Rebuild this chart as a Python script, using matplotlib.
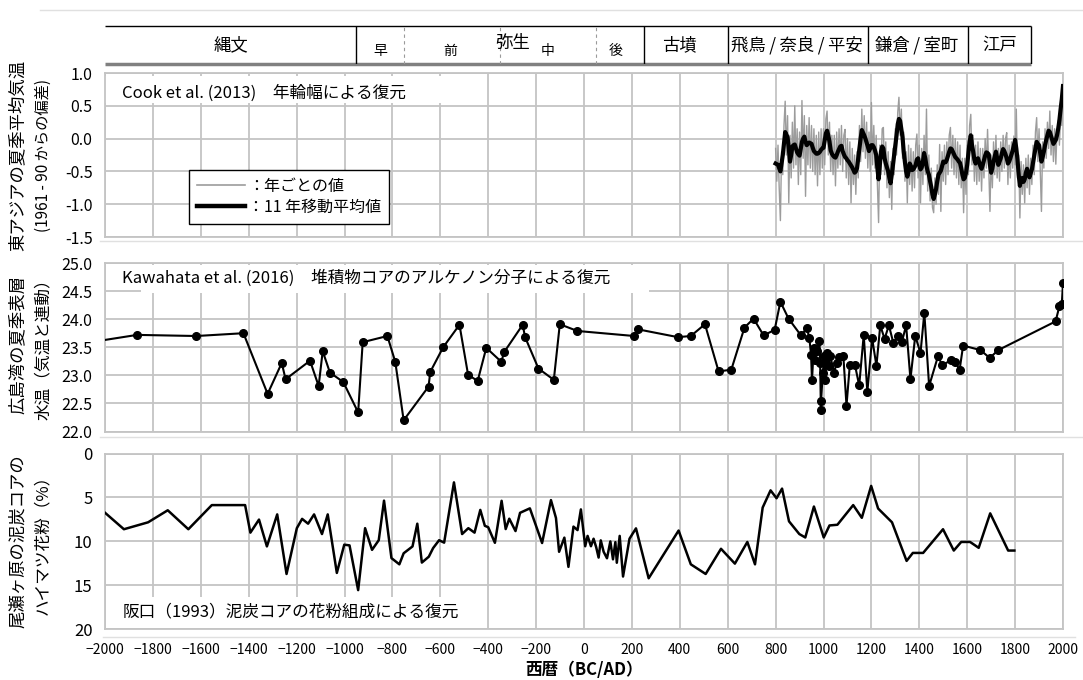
import numpy as np
import matplotlib.pyplot as plt
from matplotlib.lines import Line2D
from matplotlib.patches import Rectangle
from matplotlib.ticker import FormatStrFormatter

plt.rcParams['font.family'] = ['Noto Sans CJK JP', 'DejaVu Sans']

# ---- period band ----
era_names = ['縄文', '古墳', '飛鳥\u2009/\u2009奈良\u2009/\u2009平安', '鎌倉\u2009/\u2009室町', '江戸']
era_label_x = [-1475, 400, 890, 1390, 1735]
era_bounds = [-950, 250, 600, 1185, 1603, 1868]
yayoi_name = '弥生'
yayoi_label_x = -300
yayoi_sub = ['早', '前', '中', '後']
yayoi_sub_x = [-850, -560, -150, 130]
yayoi_sub_bounds = [-750, -350, 50]

# ---- Cook et al. (2013): summer temperature anomaly, 5-year steps 800-2000 ----
cook_years = np.arange(800, 2001, 5)
cook_annual = [
    -0.15, -0.65, -0.10, -0.75, -1.25, -0.20, -0.55, 0.20, 0.57, -0.25,
    0.35, -0.98, 0.05, -0.60, 0.25, -0.45, 0.50, -0.40, 0.15, -0.70,
    0.10, -0.55, 0.58, -0.30, 0.35, -0.88, 0.20, -0.40, 0.32, -0.45,
    0.20, -0.50, 0.15, -0.55, 0.05, -0.72, 0.10, -0.55, 0.15, -0.45,
    0.15, -0.40, 0.30, 0.42, -0.25, 0.25, -0.50, 0.05, -0.55, 0.05,
    -0.72, 0.10, -0.45, 0.15, -0.40, 0.20, -0.50, 0.05, 0.14, -0.60,
    0.00, -0.70, -0.05, -0.98, -0.15, -0.70, -0.25, -0.85, -0.20, -0.60,
    0.20, -0.35, 0.45, -0.20, 0.35, -0.30, 0.25, -0.45, 0.10, -0.50,
    0.55, -0.40, 0.20, -0.45, 0.05, -0.70, -1.28, -0.10, -0.55, 0.15,
    0.17, -0.55, -0.05, -0.75, -0.20, -0.90, -0.35, -1.08, -0.15, -0.55,
    0.15, -0.25, 0.40, 0.63, 0.05, 0.45, -0.30, 0.10, -0.65, -0.20,
    -0.98, -0.10, -0.70, -0.15, -0.80, -0.20, -0.75, -0.10, 0.07, -0.60,
    -0.10, -0.98, -0.15, -0.70, 0.05, -0.55, 0.45, -0.80, -0.25, -0.95,
    -0.45, -1.05, -1.13, -0.60, -1.00, -0.40, -0.85, -0.09, -1.11, -0.20,
    -0.65, -0.10, -0.70, -0.05, -0.55, 0.05, 0.17, -0.45, 0.05, -0.55,
    0.00, -0.60, -0.05, -0.70, -0.10, -0.75, -0.30, -1.13, -0.30, -0.85,
    -0.10, -0.55, 0.20, 0.37, -0.40, 0.05, -0.65, -0.10, -0.70, -0.05,
    -0.65, -0.15, -0.80, -0.15, -0.60, 0.00, -0.45, 0.14, -0.45, -1.11,
    -0.25, -0.75, -0.05, -0.55, 0.05, -0.60, -0.15, -0.65, -0.05, -0.50,
    0.05, -0.45, 0.00, 0.09, -0.70, -0.10, -0.60, -0.05, -0.45, 0.04,
    -0.40, 0.45, -0.60, -0.25, -1.21, -0.35, -0.85, -0.40, -0.98, -0.30,
    -0.75, -0.25, -0.85, -0.30, -0.70, -0.10, -0.55, 0.10, 0.32, -0.35,
    0.15, -0.50, -1.11, -0.05, -0.45, 0.15, -0.30, 0.25, -0.15, 0.42,
    -0.25, 0.20, -0.35, 0.15, -0.39, 0.10, 0.28, -0.10, 0.35, 0.20,
    0.83,
]
cook_ma11 = [
    -0.38, -0.39, -0.40, -0.45, -0.50, -0.38, -0.25, -0.08, 0.10, 0.06,
    0.02, -0.15, -0.35, -0.25, -0.12, -0.10, -0.09, -0.15, -0.21, -0.24,
    -0.26, -0.15, -0.05, 0.00, 0.03, -0.05, -0.10, -0.08, -0.06, -0.07,
    -0.08, -0.14, -0.19, -0.21, -0.23, -0.23, -0.22, -0.20, -0.17, -0.15,
    -0.14, -0.03, 0.08, 0.12, 0.05, -0.05, -0.18, -0.23, -0.26, -0.28,
    -0.29, -0.25, -0.20, -0.16, -0.12, -0.11, -0.19, -0.24, -0.28, -0.30,
    -0.33, -0.35, -0.38, -0.41, -0.44, -0.48, -0.52, -0.50, -0.45, -0.30,
    -0.15, 0.00, 0.13, 0.09, 0.05, 0.00, -0.06, -0.12, -0.19, -0.15,
    -0.10, -0.10, -0.13, -0.18, -0.25, -0.45, -0.62, -0.40, -0.20, -0.12,
    -0.15, -0.30, -0.38, -0.44, -0.50, -0.60, -0.68, -0.55, -0.40, -0.25,
    -0.10, 0.05, 0.22, 0.30, 0.27, 0.15, 0.02, -0.20, -0.36, -0.50,
    -0.58, -0.50, -0.38, -0.42, -0.48, -0.47, -0.44, -0.40, -0.32, -0.30,
    -0.40, -0.47, -0.44, -0.35, -0.22, -0.30, -0.42, -0.50, -0.55, -0.65,
    -0.74, -0.85, -0.92, -0.85, -0.77, -0.65, -0.55, -0.52, -0.49, -0.42,
    -0.35, -0.36, -0.36, -0.32, -0.26, -0.20, -0.15, -0.16, -0.20, -0.24,
    -0.28, -0.30, -0.32, -0.35, -0.37, -0.45, -0.55, -0.62, -0.60, -0.52,
    -0.40, -0.22, -0.05, 0.05, -0.10, -0.20, -0.32, -0.38, -0.34, -0.30,
    -0.36, -0.42, -0.46, -0.40, -0.33, -0.26, -0.21, -0.22, -0.24, -0.40,
    -0.52, -0.45, -0.35, -0.27, -0.20, -0.30, -0.40, -0.35, -0.30, -0.22,
    -0.16, -0.19, -0.24, -0.30, -0.38, -0.35, -0.30, -0.24, -0.18, -0.10,
    -0.02, -0.15, -0.32, -0.55, -0.72, -0.62, -0.60, -0.66, -0.62, -0.52,
    -0.46, -0.55, -0.59, -0.53, -0.47, -0.36, -0.25, -0.15, -0.05, -0.08,
    -0.10, -0.22, -0.35, -0.28, -0.20, -0.10, -0.02, 0.05, 0.12, 0.10,
    0.04, -0.02, -0.08, -0.05, -0.02, 0.05, 0.15, 0.28, 0.45, 0.60,
    0.80,
]

# ---- Kawahata et al. (2016): alkenone SST in Hiroshima Bay ----
kawa_years = [
    -2150, -1866, -1619, -1422, -1321, -1262, -1246, -1144, -1108, -1091,
    -1061, -1005, -943, -924, -821, -788, -753, -649, -642, -588,
    -520, -484, -444, -408, -345, -334, -256, -246, -190, -126,
    -101, -28, 210, 224, 392, 446, 505, 562, 615, 670,
    708, 750, 796, 820, 854, 906, 931, 941, 948, 952,
    959, 965, 972, 983, 986, 989, 990, 997, 1003, 1007,
    1014, 1021, 1028, 1044, 1055, 1066, 1083, 1096, 1110, 1131,
    1149, 1168, 1183, 1203, 1221, 1237, 1255, 1273, 1292, 1310,
    1327, 1345, 1363, 1383, 1405, 1421, 1441, 1478, 1496, 1532,
    1551, 1568, 1583, 1655, 1694, 1730, 1969, 1985, 1995, 2000,
]
kawa_sst = [
    23.53, 23.72, 23.70, 23.75, 22.67, 23.22, 22.93, 23.26, 22.81, 23.43,
    23.05, 22.88, 22.34, 23.59, 23.70, 23.24, 22.20, 22.80, 23.06, 23.50,
    23.90, 23.01, 22.90, 23.49, 23.24, 23.41, 23.90, 23.68, 23.12, 22.92,
    23.91, 23.79, 23.70, 23.82, 23.68, 23.70, 23.91, 23.07, 23.10, 23.85,
    24.01, 23.71, 23.81, 24.31, 24.01, 23.71, 23.84, 23.66, 23.37, 22.91,
    23.49, 23.28, 23.43, 23.62, 23.22, 22.38, 22.55, 23.04, 23.34, 22.91,
    23.40, 23.16, 23.35, 23.05, 23.22, 23.33, 23.34, 22.46, 23.19, 23.19,
    22.82, 23.72, 22.70, 23.66, 23.17, 23.89, 23.65, 23.89, 23.57, 23.70,
    23.59, 23.89, 22.93, 23.70, 23.40, 24.11, 22.81, 23.34, 23.18, 23.27,
    23.24, 23.09, 23.53, 23.45, 23.31, 23.45, 23.96, 24.23, 24.27, 24.64,
]

# ---- Sakaguchi (1993): Pinus pumila pollen in Ozegahara peat core (%) ----
oze_years = [
    -2000, -1921, -1820, -1738, -1652, -1554, -1415, -1393, -1357, -1324,
    -1281, -1242, -1199, -1177, -1152, -1127, -1094, -1070, -1032, -1001,
    -979, -943, -914, -885, -857, -835, -804, -771, -753, -716,
    -696, -677, -648, -630, -605, -584, -543, -509, -483, -457,
    -433, -414, -400, -372, -344, -327, -312, -286, -267, -226,
    -175, -138, -117, -104, -82, -65, -44, -27, -13, 5,
    15, 29, 40, 51, 61, 70, 82, 96, 110, 121,
    131, 137, 149, 163, 190, 217, 270, 395, 446, 508,
    572, 630, 682, 714, 746, 779, 804, 827, 856, 899,
    924, 960, 1001, 1025, 1058, 1124, 1160, 1199, 1228, 1286,
    1347, 1373, 1416, 1499, 1544, 1575, 1612, 1648, 1696, 1771,
    1797,
]
oze_pollen = [
    6.75, 8.63, 7.84, 6.47, 8.63, 5.88, 5.88, 9.02, 7.53, 10.59,
    6.94, 13.73, 8.51, 7.45, 8.00, 6.94, 9.18, 6.94, 13.61, 10.39,
    10.47, 15.57, 8.51, 10.98, 9.88, 5.37, 11.92, 12.63, 11.37, 10.59,
    8.00, 12.43, 11.76, 10.78, 9.88, 10.16, 3.29, 9.18, 8.51, 9.02,
    6.43, 8.24, 8.40, 10.18, 5.39, 8.61, 7.43, 8.84, 6.76, 6.25,
    10.20, 5.31, 7.35, 11.20, 9.59, 12.92, 8.33, 8.73, 6.37, 10.57,
    9.39, 10.57, 9.71, 10.69, 11.86, 9.90, 11.20, 11.94, 10.02, 12.06,
    10.10, 12.45, 9.39, 14.02, 9.71, 8.53, 14.22, 8.78, 12.63, 13.73,
    10.86, 12.55, 10.08, 12.63, 6.16, 4.20, 5.10, 4.00, 7.73, 9.18,
    9.57, 6.04, 9.57, 8.20, 8.12, 5.88, 7.33, 3.69, 6.27, 7.84,
    12.24, 11.33, 11.33, 8.63, 11.06, 10.08, 10.08, 10.75, 6.82, 11.06,
    11.06,
]

year_ticks = list(range(-2000, 2001, 200))

W, H = 1083, 680
fig = plt.figure(figsize=(W / 100, H / 100), dpi=100)
fig.patch.set_facecolor('white')


def px_axes(x0, y0, x1, y1):
    return fig.add_axes([x0 / W, 1 - y1 / H, (x1 - x0) / W, (y1 - y0) / H])


# faint chart-area borders
for y, xa, xb in [(10, 40, 1083), (241, 100, 1083), (437, 100, 1083), (637, 103, 1075)]:
    fig.add_artist(Line2D([xa / W, xb / W], [1 - y / H, 1 - y / H],
                          color='#e0e0e0', lw=1))

grid_color = '#c4c4c4'


def style_panel(ax):
    ax.set_xlim(-2000, 2000)
    ax.set_xticks(year_ticks)
    ax.grid(True, color=grid_color, lw=1.3)
    ax.set_axisbelow(True)
    for s in ax.spines.values():
        s.set_color(grid_color)
        s.set_linewidth(1.3)
    ax.tick_params(length=0, labelsize=11.5, pad=9)


def white_box(ax, x0, y0, x1, y1):
    ax.add_patch(Rectangle((x0, y0), x1 - x0, y1 - y0, transform=ax.transAxes,
                           facecolor='white', edgecolor='none', zorder=1.5))


# ---- period band ----
axb = px_axes(105, 26, 1063, 64)
axb.set_xlim(-2000, 2000)
axb.set_ylim(0, 1)
axb.axis('off')
axb.hlines(1, -2000, era_bounds[-1], color='black', lw=1.0, clip_on=False)
axb.hlines(0, -2000, era_bounds[-1], color='#808080', lw=2.5, clip_on=False)
axb.vlines(era_bounds, 0, 1, color='black', lw=1.0)
axb.vlines(yayoi_sub_bounds, 0, 1, color='#9a9a9a', lw=0.8, linestyles=(0, (3, 3)))
for name, x in zip(era_names, era_label_x):
    axb.text(x, 0.5, name, ha='center', va='center', fontsize=12.5)
axb.text(yayoi_label_x, 0.56, yayoi_name, ha='center', va='center', fontsize=12.5)
for name, x in zip(yayoi_sub, yayoi_sub_x):
    axb.text(x, 0.33, name, ha='center', va='center', fontsize=10)

# ---- panel 1: tree-ring temperature ----
ax1 = px_axes(105, 73, 1063, 237)
style_panel(ax1)
ax1.set_ylim(-1.5, 1.0)
ax1.set_yticks([-1.5, -1.0, -0.5, 0.0, 0.5, 1.0])
ax1.yaxis.set_major_formatter(FormatStrFormatter('%.1f'))
ax1.tick_params(labelbottom=False)
white_box(ax1, 0.0, 0.82, 0.376, 0.98)
ax1.plot(cook_years, cook_annual, color='#9c9c9c', lw=1.0, zorder=3)
ax1.plot(cook_years, cook_ma11, color='black', lw=3.0, zorder=4,
         solid_joinstyle='round')
ax1.text(0.018, 0.878, 'Cook et al. (2013)\u3000年輪幅による復元',
         transform=ax1.transAxes, ha='left', va='center', fontsize=12, zorder=5)
h_gray = Line2D([], [], color='#9c9c9c', lw=1.2)
h_black = Line2D([], [], color='black', lw=3.2)
leg = ax1.legend([h_gray, h_black], ['：年ごとの値', '：11 年移動平均値'],
                 loc='upper left', bbox_to_anchor=(0.079, 0.46),
                 fancybox=False, edgecolor='black', framealpha=1,
                 fontsize=11.5, handlelength=3.0, handletextpad=0.2,
                 borderpad=0.5, labelspacing=0.25)
leg.get_frame().set_linewidth(1.0)
leg.set_zorder(6)

# ---- panel 2: alkenone SST ----
ax2 = px_axes(105, 263, 1063, 431.5)
style_panel(ax2)
ax2.set_ylim(22.0, 25.0)
ax2.set_yticks(np.arange(22.0, 25.01, 0.5))
ax2.yaxis.set_major_formatter(FormatStrFormatter('%.1f'))
ax2.tick_params(labelbottom=False)
white_box(ax2, 0.038, 0.82, 0.568, 0.99)
ax2.plot(kawa_years, kawa_sst, color='black', lw=1.5, marker='o', ms=5.5,
         zorder=3)
ax2.text(0.018, 0.911, 'Kawahata et al. (2016)\u3000堆積物コアのアルケノン分子による復元',
         transform=ax2.transAxes, ha='left', va='center', fontsize=12, zorder=5)

# ---- panel 3: pollen ----
ax3 = px_axes(105, 453.5, 1063, 629)
style_panel(ax3)
ax3.set_ylim(20, 0)
ax3.set_yticks([0, 5, 10, 15, 20])
ax3.tick_params(axis='y', labelsize=12)
ax3.tick_params(axis='x', labelsize=10, pad=10)
white_box(ax3, 0.002, 0.006, 0.368, 0.18)
ax3.plot(oze_years, oze_pollen, color='black', lw=1.8, zorder=3)
ax3.text(0.018, 0.097, '阪口（1993）泥炭コアの花粉組成による復元',
         transform=ax3.transAxes, ha='left', va='center', fontsize=12, zorder=5)
ax3.set_xlabel('西暦（BC/AD）', fontsize=12, fontweight='bold', labelpad=3)

# ---- y-axis titles ----
ylabels = [
    (155, '東アジアの夏季平均気温', '(1961 - 90 からの偏差)', 11),
    (345, '広島湾の夏季表層', '水温（気温と連動）', 12),
    (541, '尾瀬ヶ原の泥炭コアの', 'ハイマツ花粉（%）', 12),
]
for yc, line1, line2, fs2 in ylabels:
    fig.text(18 / W, 1 - yc / H, line1, rotation=90, ha='center', va='center',
             fontsize=12.5)
    fig.text(43 / W, 1 - yc / H, line2, rotation=90, ha='center', va='center',
             fontsize=fs2)

fig.savefig('out.png', dpi=100)
